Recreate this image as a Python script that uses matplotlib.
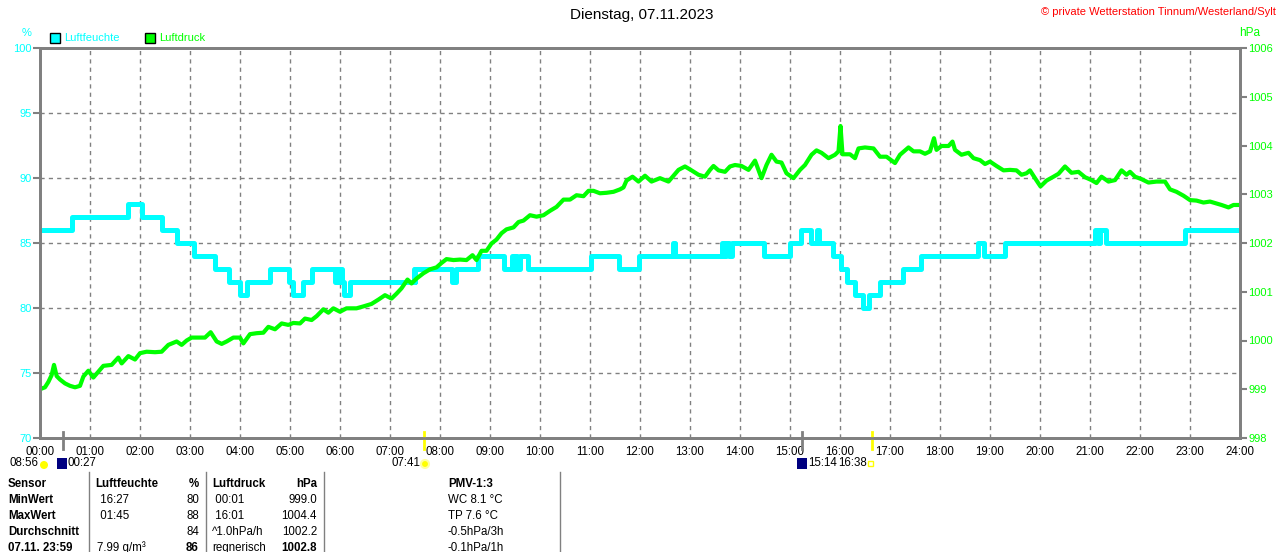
import matplotlib
matplotlib.use("Agg")
import matplotlib.pyplot as plt
import matplotlib.transforms as mtransforms
from matplotlib.patches import Rectangle, Circle

plt.rcParams['font.family'] = ['Liberation Sans', 'DejaVu Sans']

# Luftfeuchte (%) - step values, time in hours
hum_t = [0.0, 0.63, 1.75, 2.03, 2.43, 2.73, 3.08, 3.5, 3.78, 4.0, 4.13, 4.6, 4.97, 5.05, 5.25,
         5.43, 5.9, 5.93, 5.97, 6.0, 6.03, 6.08, 6.2, 7.47, 7.49, 7.5, 8.23, 8.32, 8.75, 9.27,
         9.43, 9.47, 9.5, 9.53, 9.6, 9.75, 11.01, 11.58, 11.97, 12.65, 12.7, 13.63, 13.67, 13.72,
         13.77, 13.83, 14.48, 15.0, 15.22, 15.41, 15.53, 15.57, 15.85, 16.02, 16.15, 16.3, 16.45,
         16.58, 16.81, 17.25, 17.61, 18.75, 18.87, 19.29, 21.09, 21.15, 21.2, 21.32, 22.89, 24.0]
hum_v = [86, 87, 88, 87, 86, 85, 84, 83, 82, 81, 82, 83, 82, 81, 82,
         83, 82, 83, 82, 83, 82, 81, 82, 83, 82, 83, 82, 83, 84, 83,
         84, 83, 84, 83, 84, 83, 84, 83, 84, 85, 84, 85, 84, 85,
         84, 85, 84, 85, 86, 85, 86, 85, 84, 83, 82, 81, 80,
         81, 82, 83, 84, 85, 84, 85, 86, 85, 86, 85, 86, 86]

# Luftdruck (hPa)
p_t = [0.0, 0.1, 0.167, 0.233, 0.28, 0.333, 0.4, 0.5, 0.6, 0.7, 0.8, 0.867, 0.967, 1.067, 1.167,
       1.267, 1.433, 1.567, 1.633, 1.767, 1.9, 2.0, 2.133, 2.3, 2.433, 2.567, 2.733, 2.833, 2.933,
       3.033, 3.167, 3.3, 3.413, 3.533, 3.633, 3.733, 3.867, 4.0, 4.067, 4.2, 4.333, 4.467, 4.567,
       4.7, 4.833, 4.967, 5.067, 5.2, 5.3, 5.433, 5.533, 5.667, 5.767, 5.867, 6.0, 6.13, 6.33,
       6.47, 6.63, 6.77, 6.9, 7.03, 7.13, 7.23, 7.35, 7.43, 7.53, 7.67, 7.8, 7.93, 8.03, 8.13,
       8.27, 8.4, 8.53, 8.65, 8.73, 8.83, 8.93, 9.03, 9.13, 9.23, 9.33, 9.47, 9.57, 9.67, 9.8,
       9.93, 10.07, 10.2, 10.33, 10.47, 10.6, 10.73, 10.87, 10.97, 11.07, 11.2, 11.33, 11.47,
       11.6, 11.67, 11.73, 11.85, 11.97, 12.1, 12.23, 12.4, 12.57, 12.67, 12.77, 12.9, 13.03,
       13.17, 13.3, 13.4, 13.47, 13.57, 13.7, 13.8, 13.9, 14.03, 14.17, 14.3, 14.43, 14.53,
       14.63, 14.73, 14.83, 14.93, 15.07, 15.2, 15.3, 15.43, 15.53, 15.63, 15.77, 15.9, 15.97,
       16.01, 16.05, 16.2, 16.3, 16.37, 16.5, 16.67, 16.8, 16.93, 17.1, 17.2, 17.37, 17.47,
       17.6, 17.7, 17.8, 17.88, 17.93, 18.03, 18.17, 18.25, 18.3, 18.43, 18.57, 18.67, 18.8,
       18.9, 19.0, 19.13, 19.27, 19.4, 19.53, 19.63, 19.73, 19.8, 19.9, 20.01, 20.13, 20.27,
       20.37, 20.5, 20.63, 20.77, 20.9, 21.03, 21.13, 21.23, 21.37, 21.5, 21.63, 21.73, 21.8,
       21.9, 22.03, 22.17, 22.33, 22.5, 22.6, 22.73, 22.87, 23.0, 23.13, 23.27, 23.4, 23.53,
       23.63, 23.77, 23.87, 23.97]
p_v = [999.0, 999.04, 999.15, 999.29, 999.5, 999.27, 999.2, 999.12, 999.07, 999.04, 999.07,
       999.26, 999.38, 999.24, 999.36, 999.48, 999.5, 999.65, 999.53, 999.68, 999.61, 999.74,
       999.77, 999.76, 999.77, 999.91, 999.98, 999.91, 1000.0, 1000.06, 1000.06, 1000.06,
       1000.17, 999.98, 999.93, 999.98, 1000.06, 1000.06, 999.94, 1000.13, 1000.15, 1000.16,
       1000.28, 1000.23, 1000.35, 1000.32, 1000.36, 1000.35, 1000.45, 1000.42, 1000.5, 1000.64,
       1000.57, 1000.66, 1000.59, 1000.66, 1000.66, 1000.7, 1000.75, 1000.84, 1000.93, 1000.86,
       1000.96, 1001.07, 1001.25, 1001.17, 1001.27, 1001.38, 1001.46, 1001.5, 1001.59, 1001.67,
       1001.65, 1001.66, 1001.65, 1001.75, 1001.65, 1001.84, 1001.84, 1001.99, 1002.07, 1002.2,
       1002.28, 1002.32, 1002.43, 1002.46, 1002.57, 1002.54, 1002.57, 1002.66, 1002.74, 1002.89,
       1002.89, 1002.98, 1002.96, 1003.07, 1003.07, 1003.02, 1003.03, 1003.05, 1003.1, 1003.14,
       1003.28, 1003.36, 1003.26, 1003.38, 1003.26, 1003.33, 1003.26, 1003.38, 1003.5, 1003.57,
       1003.49, 1003.4, 1003.36, 1003.5, 1003.58, 1003.49, 1003.46, 1003.57, 1003.6, 1003.58,
       1003.5, 1003.69, 1003.33, 1003.6, 1003.81, 1003.67, 1003.65, 1003.43, 1003.33, 1003.5,
       1003.6, 1003.81, 1003.9, 1003.85, 1003.74, 1003.81, 1003.88, 1004.4, 1003.82, 1003.82,
       1003.74, 1003.94, 1003.96, 1003.94, 1003.77, 1003.77, 1003.64, 1003.81, 1003.96, 1003.88,
       1003.88, 1003.83, 1003.88, 1004.15, 1003.91, 1003.99, 1003.99, 1004.08, 1003.91, 1003.81,
       1003.85, 1003.74, 1003.7, 1003.62, 1003.67, 1003.58, 1003.49, 1003.5, 1003.49, 1003.4,
       1003.43, 1003.49, 1003.33, 1003.16, 1003.28, 1003.36, 1003.42, 1003.57, 1003.44, 1003.46,
       1003.35, 1003.29, 1003.23, 1003.36, 1003.26, 1003.29, 1003.49, 1003.4, 1003.46, 1003.36,
       1003.31, 1003.24, 1003.26, 1003.26, 1003.1, 1003.05, 1002.97, 1002.88, 1002.87, 1002.83,
       1002.85, 1002.81, 1002.78, 1002.73, 1002.78, 1002.78]

hours = list(range(25))
hour_labels = ["%02d:00" % h for h in hours]
hum_ticks = [70, 75, 80, 85, 90, 95, 100]
p_ticks = [998, 999, 1000, 1001, 1002, 1003, 1004, 1005, 1006]

# sun / moon events (hours) and their colours
event_t = [0.45, 7.683, 15.233, 16.633]
event_c = ['#808080', '#FFFF00', '#808080', '#FFFF00']

# summary table
tbl_rows = [
    ["Sensor", "Luftfeuchte", "%", "Luftdruck", "hPa", "PMV-1:3"],
    ["MinWert", " 16:27", "80", " 00:01", "999.0", "WC 8.1 °C"],
    ["MaxWert", " 01:45", "88", " 16:01", "1004.4", "TP 7.6 °C"],
    ["Durchschnitt", "", "84", "^1.0hPa/h", "1002.2", "-0.5hPa/3h"],
    ["07.11. 23:59", "7.99 g/m³", "86", "regnerisch", "1002.8", "-0.1hPa/1h"],
]

CYAN = '#00FFFF'
GREEN = '#00FF00'
GRAY = '#808080'
FS = 8.3

fig = plt.figure(figsize=(12.8, 5.52), dpi=100)
ax = fig.add_axes([40 / 1280, 1 - 438 / 552, 1200 / 1280, 390 / 552])
ax2 = ax.twinx()

ax.step(hum_t, hum_v, where='post', color=CYAN, lw=3.6)
ax2.plot(p_t, p_v, color=GREEN, lw=3.0)

ax.set_xlim(0, 24)
ax.set_ylim(70, 100)
ax2.set_ylim(998, 1006)
ax.set_xticks(hours)
ax.set_xticklabels(hour_labels)
ax.set_yticks(hum_ticks)
ax2.set_yticks(p_ticks)
ax.grid(True, color=GRAY, ls=(0, (3, 3)), lw=1)
ax.tick_params(axis='x', length=0, pad=6, labelsize=FS, labelcolor='black')
ax.tick_params(axis='y', length=5, width=1.5, color=GRAY, pad=1, labelsize=8, labelcolor=CYAN)
ax2.tick_params(axis='y', length=5, width=1.5, color=GRAY, pad=1, labelsize=8, labelcolor=GREEN)
for a in (ax, ax2):
    for s in a.spines.values():
        s.set_color(GRAY)
        s.set_linewidth(2)

# event markers on the time axis
trans = mtransforms.blended_transform_factory(ax.transData, ax.transAxes)
for t, c in zip(event_t, event_c):
    ax.plot([t, t], [-0.028, 0.015], color=c, lw=2, transform=trans, clip_on=False, zorder=5)

# overlay in pixel coordinates for the texts around the plot
ov = fig.add_axes([0, 0, 1, 1], facecolor='none')
ov.set_xlim(0, 1280)
ov.set_ylim(552, 0)
ov.axis('off')

ov.text(642, 15, "Dienstag, 07.11.2023", ha='center', va='center', fontsize=11)
ov.text(1276, 12, "© private Wetterstation Tinnum/Westerland/Sylt", ha='right', va='center',
        fontsize=8, color='red')
ov.text(27, 33, "%", ha='center', va='center', fontsize=8, color=CYAN)
ov.text(1250, 33, "hPa", ha='center', va='center', fontsize=8.5, color=GREEN)
ov.add_patch(Rectangle((50, 33), 10, 10, facecolor=CYAN, edgecolor='black', lw=1))
ov.text(64, 38, "Luftfeuchte", ha='left', va='center', fontsize=8, color=CYAN)
ov.add_patch(Rectangle((145, 33), 10, 10, facecolor=GREEN, edgecolor='black', lw=1))
ov.text(159, 38, "Luftdruck", ha='left', va='center', fontsize=8, color=GREEN)

# sun / moon labels below the axis
ov.text(9, 463, "08:56", ha='left', va='center', fontsize=FS)
ov.add_patch(Circle((44, 465), 4, facecolor='#FFFF00', edgecolor='none'))
ov.add_patch(Rectangle((57, 458), 10, 11, facecolor='#000080'))
ov.text(68, 463, "00:27", ha='left', va='center', fontsize=FS)
ov.text(391, 463, "07:41", ha='left', va='center', fontsize=FS)
ov.add_patch(Circle((425, 464), 4, facecolor='#FFFF00', edgecolor='#FFFFA0', lw=1.5))
ov.add_patch(Rectangle((797, 458), 10, 11, facecolor='#000080'))
ov.text(808, 463, "15:14", ha='left', va='center', fontsize=FS)
ov.text(838, 463, "16:38", ha='left', va='center', fontsize=FS,
        bbox=dict(facecolor='white', edgecolor='none', pad=0.5))
ov.add_patch(Rectangle((868, 461), 5, 5, facecolor='white', edgecolor='#FFFF00', lw=1))

# table
for x in (89, 206, 324, 560):
    ov.plot([x, x], [472, 552], color=GRAY, lw=1)
row_y = [484, 500, 516, 532, 548]
col_x = [8, 97, 199, 212, 317, 448]
col_ha = ['left', 'left', 'right', 'left', 'right', 'left']
for r, (y, row) in enumerate(zip(row_y, tbl_rows)):
    for c, (x, ha, s) in enumerate(zip(col_x, col_ha, row)):
        bold = r == 0 or c == 0 or (r == 4 and c in (2, 4))
        if r == 0 and c == 1:
            x = 95
        ov.text(x, y, s, ha=ha, va='center', fontsize=FS,
                fontweight='bold' if bold else 'normal')

fig.savefig("out.png", dpi=100)
